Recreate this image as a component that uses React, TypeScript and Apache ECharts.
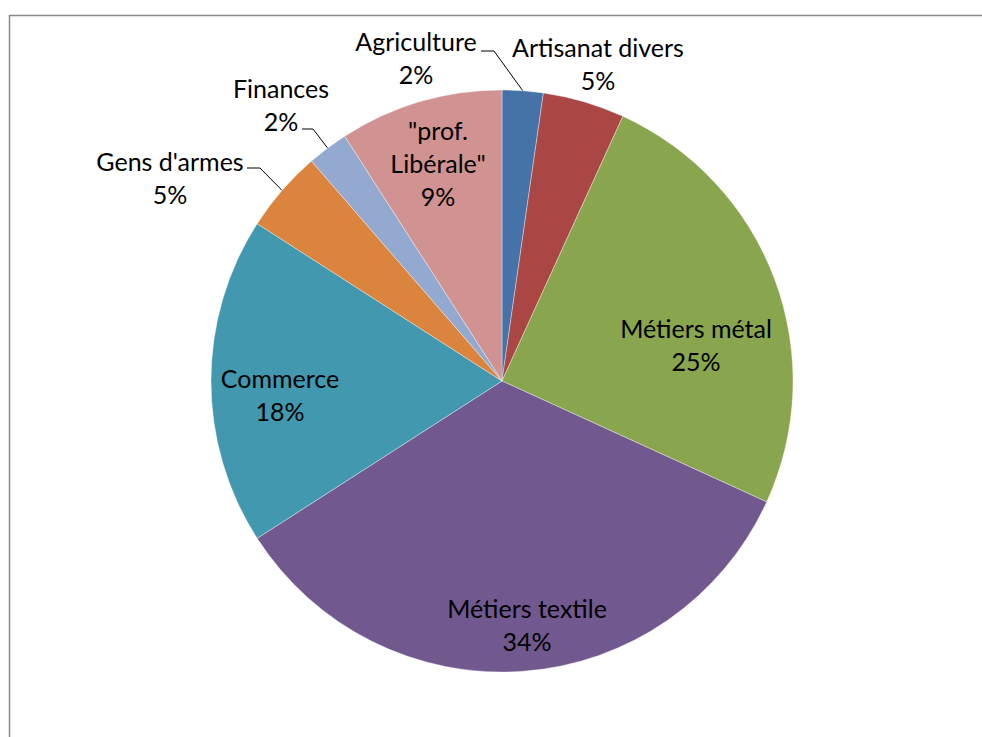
import React, { useEffect, useRef } from 'react';
import * as echarts from 'echarts';

// ---- data ----
const categories = [
  'Agriculture',
  'Artisanat divers',
  'Métiers métal',
  'Métiers textile',
  'Commerce',
  "Gens d'armes",
  'Finances',
  '"prof.\nLibérale"',
];
const values = [1, 2, 11, 15, 8, 2, 1, 4];
const colors = ['#4572A7', '#AA4643', '#89A54E', '#71588F', '#4198AF', '#DB843D', '#93A9CF', '#D19392'];

// ---- label layout (pixel placement of label blocks and leader-line bends) ----
type Placement = { at: [number, number]; outside: boolean; line?: number[][] };
const placements: Placement[] = [
  { at: [416, 57], outside: true, line: [[494, 51], [481, 51]] },
  { at: [598, 63], outside: true },
  { at: [696, 344], outside: false },
  { at: [527, 624], outside: false },
  { at: [280, 394], outside: false },
  { at: [170, 177], outside: true, line: [[260, 168], [247, 168]] },
  { at: [281, 104], outside: true, line: [[313, 129], [302, 129]] },
  { at: [438, 163], outside: false },
];

const FONT = 'Lato, "Noto Sans", sans-serif';

export default function App() {
  const ref = useRef<HTMLDivElement>(null);

  useEffect(() => {
    if (!ref.current) return;
    const chart = echarts.init(ref.current, undefined, { renderer: 'svg' });
    const data = categories.map((name, i) => {
      const p = placements[i];
      return {
        name,
        value: values[i],
        itemStyle: { color: colors[i] },
        label: { position: p.outside ? 'outside' : 'inside' },
        labelLine: { show: !!p.line },
      };
    });

    chart.setOption({
      animation: false,
      backgroundColor: '#ffffff',
      graphic: [
        {
          type: 'rect',
          silent: true,
          z: -1,
          shape: { x: 9.5, y: 15.5, width: 2000, height: 2000 },
          style: { fill: 'none', stroke: '#8a8a8a', lineWidth: 1.5 },
        },
      ],
      series: [
        {
          type: 'pie',
          center: [502, 381],
          radius: 291,
          startAngle: 90,
          clockwise: true,
          percentPrecision: 0,
          avoidLabelOverlap: false,
          itemStyle: { borderColor: 'rgba(255,255,255,0.6)', borderWidth: 0.6 },
          label: {
            show: true,
            formatter: '{b}\n{d}%',
            color: '#000',
            fontFamily: FONT,
            fontSize: 25,
            lineHeight: 33,
            align: 'center',
          },
          labelLine: {
            show: true,
            lineStyle: { color: '#000', width: 1 },
          },
          labelLayout: (params: any) => {
            const p = placements[params.dataIndex];
            const res: any = {
              x: p.at[0],
              y: p.at[1],
              align: 'center',
              verticalAlign: 'middle',
            };
            if (p.line && params.labelLinePoints) {
              res.labelLinePoints = [params.labelLinePoints[0], ...p.line];
            }
            return res;
          },
          data,
        },
      ],
    });
    return () => chart.dispose();
  }, []);

  return (
    <div
      ref={ref}
      style={{ position: 'fixed', left: 0, top: 0, width: 982, height: 737 }}
    />
  );
}
